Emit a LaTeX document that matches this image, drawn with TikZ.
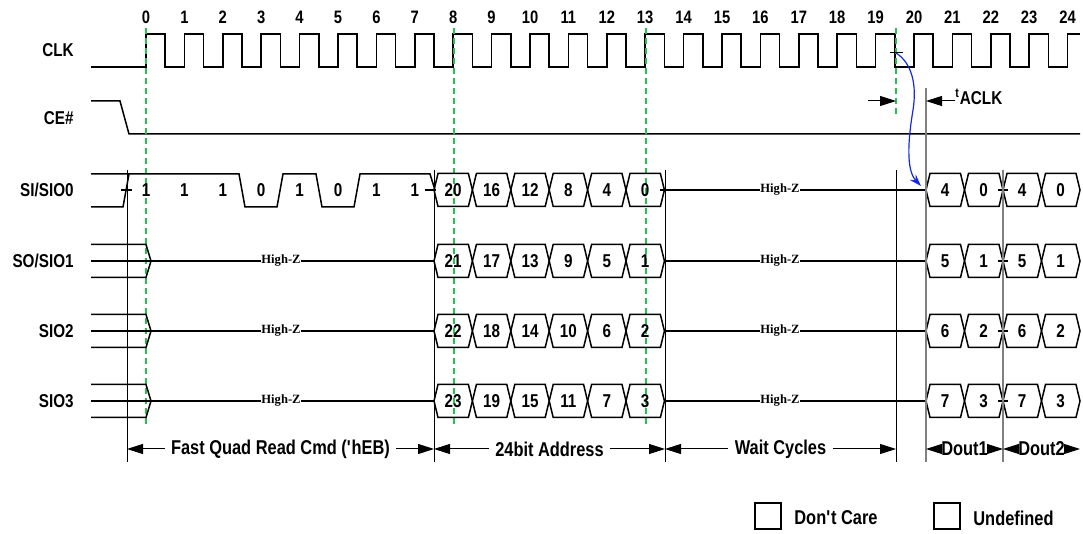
\documentclass[tikz,border=0pt]{standalone}
\usepackage{fontspec}
\setmainfont{Liberation Sans}[FakeStretch=0.82]
\newfontfamily\hizfont{Liberation Serif}
\usetikzlibrary{arrows.meta,calc}

\begin{document}
\begin{tikzpicture}[x=0.5pt,y=-0.5pt,
    every node/.style={font=\bfseries\fontsize{9.3}{11}\selectfont,inner sep=1pt},
    wave/.style={line width=0.75pt},
    marker/.style={line width=0.5pt},
    graymarker/.style={line width=0.9pt,draw=markgray},
    clkline/.style={draw=clkgreen,line width=0.7pt,dash pattern=on 3pt off 2pt},
    hiz/.style={fill=white,inner sep=0.4pt,font=\hizfont\bfseries\fontsize{6.3}{7}\selectfont},
    dim/.style={line width=0.5pt,-{Triangle[length=8pt,width=5pt]}},
    dimlabel/.style={fill=white,inner sep=3pt,font=\bfseries\fontsize{10}{12}\selectfont}
  ]
  \definecolor{clkgreen}{RGB}{40,190,80}
  \definecolor{markgray}{RGB}{128,128,128}
  \definecolor{arcblue}{RGB}{20,40,230}

  \useasboundingbox (0,0) rectangle (1083,534);

  \node[anchor=east] (clk-name)  at (76,50)  {CLK};
  \node[anchor=east] (ce-name)   at (76,118) {CE\#};
  \node[anchor=east] (sio0-name) at (76,190) {SI/SIO0};
  \node[anchor=east] (sio1-name) at (76,261) {SO/SIO1};
  \node[anchor=east] (sio2-name) at (76,331) {SIO2};
  \node[anchor=east] (sio3-name) at (76,401) {SIO3};

  % clock
  \foreach \n in {0,...,24}
    \node[font=\bfseries\fontsize{9}{11}\selectfont] (cyc\n) at ({146+38.4*\n},17) {\n};
  \draw[wave] (91,67) \foreach \n in {0,...,23} {
      -- ({146+38.4*\n},67) -- ({146+38.4*\n},34) -- ({165.2+38.4*\n},34) -- ({165.2+38.4*\n},67)}
    -- (1067.6,67) -- (1067.6,34) -- (1080,34);

  \draw[wave] (91,101) -- (120,101) -- (129,134) -- (1080,134);

  \foreach \x in {146,454,646}
    \draw[clkline] (\x,28) -- (\x,425);
  \draw[clkline] (896,28) -- (896,115);

  % command on SI/SIO0
  \draw[wave] (91,174) -- (239,174) -- (245,207) -- (277,207) -- (283,174) -- (316,174) -- (322,207)
    -- (354,207) -- (360,174) -- (430,174) -- (435,190);
  \draw[wave] (91,207) -- (123,207) -- (129,174);
  \foreach \bit [count=\i from 0] in {1,1,1,0,1,0,1,1}
    \node (cmd\i) at ({146+38.4*\i},190) {\bit};
  \draw[wave] (121,190) -- (132,190);
  \draw[wave] (425,190) -- (436,190);
  \draw[wave] (660,190) -- (672,190);

  \foreach \m in {261,331,401} {
    \draw[wave] (91,\m-16.5) -- (146,\m-16.5) -- (151,\m) -- (146,\m+16.5) -- (91,\m+16.5);
    \draw[wave] (91,\m) -- (434,\m);
    \node[hiz] (cmdz\m) at (281,\m) {High-Z};
  }

  % address, wait and data
  \foreach \r/\m in {0/190,1/261,2/331,3/401} {
    \foreach \k in {0,...,5} {
      \pgfmathsetmacro\xa{434+38.4*\k}
      \pgfmathsetmacro\xb{472.4+38.4*\k}
      \pgfmathtruncatemacro\v{20+\r-4*\k}
      \draw[wave] (\xa,\m) -- (\xa+4,\m-16.5) -- (\xb-4,\m-16.5) -- (\xb,\m) -- (\xb-4,\m+16.5) -- (\xa+4,\m+16.5) -- cycle;
      \node (adr\r-\k) at ({453.2+38.4*\k},\m) {\v};
    }
    \draw[wave] (665,\m) -- (926,\m);
    \node[hiz] (waitz\r) at (780,\m) {High-Z};
    \foreach \k in {0,...,3} {
      \pgfmathsetmacro\xa{926+38.5*\k}
      \pgfmathsetmacro\xb{964.5+38.5*\k}
      \pgfmathtruncatemacro\v{\r+4*(1-mod(\k,2))}
      \draw[wave] (\xa,\m) -- (\xa+4,\m-16.5) -- (\xb-4,\m-16.5) -- (\xb,\m) -- (\xb-4,\m+16.5) -- (\xa+4,\m+16.5) -- cycle;
      \node (dout\r-\k) at ({945.2+38.5*\k},\m) {\v};
    }
    \draw[wave] (998,\m) -- (1008,\m);
  }

  \foreach \x in {127,434,665,896}
    \draw[marker] (\x,170) -- (\x,462);
  \draw[graymarker] (926,88) -- (926,462);
  \draw[graymarker] (1003,170) -- (1003,462);

  % tACLK
  \coordinate (aclk-left) at (868,101);
  \coordinate (aclk-right) at (955,101);
  \draw[dim] (aclk-left) -- (896,101);
  \draw[dim] (aclk-right) -- (926,101);
  \node[anchor=west,inner sep=0pt] (aclk) at (955,97) {\textsuperscript{t}ACLK};

  \coordinate (launch) at (896,53);
  \draw[marker] (890,53) -- (903,53);
  \draw[arcblue,line width=0.6pt,-{Stealth[length=6pt,width=4pt]}] (launch)
    .. controls (912,63) and (917,85) .. (913,110) .. controls (908,140) and (906,170) .. (921,186);

  % phases
  \foreach \xa/\xb/\txt/\nm in {127/434/{Fast Quad Read Cmd (\textquotesingle hEB)}/cmd,434/665/{24bit Address}/adr,665/896/{Wait Cycles}/wait} {
    \node[dimlabel] (\nm-label) at ({(\xa+\xb)/2},449) {\txt};
    \draw[dim] (\nm-label.west) -- (\xa,449);
    \draw[dim] (\nm-label.east) -- (\xb,449);
  }
  \foreach \xa/\xb/\nm in {926/1003/Dout1,1003/1080/Dout2} {
    \node[dimlabel,inner sep=0.5pt] (\nm-label) at ({(\xa+\xb)/2},449) {\nm};
    \draw[dim] (\nm-label.west) -- (\xa,449);
    \draw[dim] (\nm-label.east) -- (\xb,449);
  }

  % legend
  \draw[wave] (755,503) rectangle (781,529);
  \node[anchor=west,font=\bfseries\fontsize{10}{12}\selectfont] (dontcare) at (792,518) {Don\textquotesingle t Care};
  \draw[wave] (934,503) rectangle (960,529);
  \node[anchor=west,font=\bfseries\fontsize{10}{12}\selectfont] (undefined) at (971,518) {Undefined};
\end{tikzpicture}
\end{document}
